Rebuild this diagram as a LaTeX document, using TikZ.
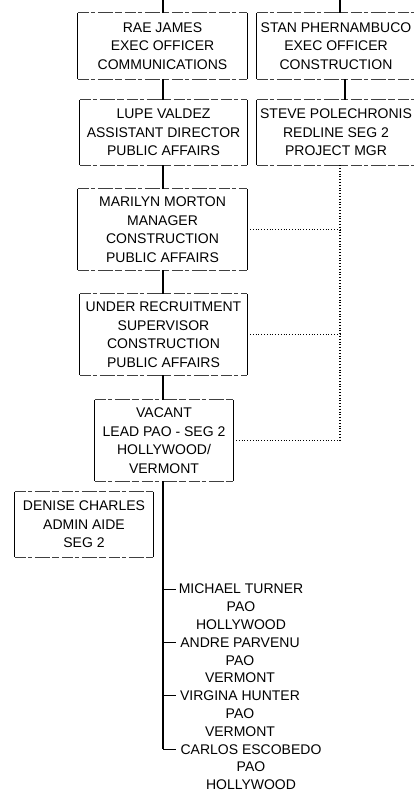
\documentclass[tikz,border=0pt]{standalone}
\usepackage{fontspec}
\setmainfont{Liberation Sans}
\begin{document}
\begin{tikzpicture}[x=1pt,y=-1pt,
  boxarea/.style={rectangle, draw=none, inner sep=0pt, align=center,
    font=\fontsize{14}{18.5}\selectfont},
  boxtext/.style={inner sep=0pt, align=center, font=\fontsize{14}{18.5}\selectfont},
  namelist/.style={inner sep=0pt, align=center, anchor=north, font=\fontsize{14}{17.8}\selectfont},
  sideline/.style={line width=1.1pt, black},
  rimline/.style={line width=0.9pt, black!75, dash pattern=on 11pt off 2pt on 4pt off 3pt on 15pt off 2pt on 7pt off 3pt},
  link/.style={line width=1.15pt, black},
  tick/.style={line width=0.8pt, black},
  dotlink/.style={line width=1.1pt, black, dash pattern=on 1pt off 1.8pt}
]
\useasboundingbox (0,0) rectangle (413,794);
\newcommand\orgedges[1]{%
  \draw[sideline] (#1.north west) -- (#1.south west) (#1.north east) -- (#1.south east);
  \draw[rimline] (#1.north west) -- (#1.north east) (#1.south west) -- (#1.south east);}

% coordinates for connector columns
\coordinate (spine) at (163,0);
\coordinate (stantop) at (340,0);
\coordinate (stanlink) at (345,0);
\coordinate (dotcol) at (340,0);

% boxes
\node[boxarea, minimum width=169pt, minimum height=66pt] (rae) at (162.5,46)
  {RAE JAMES\\EXEC OFFICER\\COMMUNICATIONS};
\node[boxarea, minimum width=173pt, minimum height=66pt] (stan) at (343.5,46) {};
\node[boxtext] (stant) at (336,46) {STAN PHERNAMBUCO\\EXEC OFFICER\\CONSTRUCTION};
\node[boxarea, minimum width=167pt, minimum height=65pt] (lupe) at (163.5,132.5)
  {LUPE VALDEZ\\ASSISTANT DIRECTOR\\PUBLIC AFFAIRS};
\node[boxarea, minimum width=173pt, minimum height=65pt] (steve) at (343.5,132.5) {};
\node[boxtext] (stevet) at (336,132.5) {STEVE POLECHRONIS\\REDLINE SEG 2\\PROJECT MGR};
\node[boxarea, minimum width=169pt, minimum height=81pt] (marilyn) at (162.5,229.5)
  {MARILYN MORTON\\MANAGER\\CONSTRUCTION\\PUBLIC AFFAIRS};
\node[boxarea, minimum width=167pt, minimum height=81pt] (under) at (163.5,334.5)
  {UNDER RECRUITMENT\\SUPERVISOR\\CONSTRUCTION\\PUBLIC AFFAIRS};
\node[boxarea, minimum width=138pt, minimum height=81pt] (vacant) at (164,440.5)
  {VACANT\\LEAD PAO - SEG 2\\HOLLYWOOD/\\VERMONT};
\node[boxarea, minimum width=138pt, minimum height=65pt] (denise) at (84,524.5)
  {DENISE CHARLES\\ADMIN AIDE\\SEG 2};

\orgedges{rae}
\orgedges{stan}
\orgedges{lupe}
\orgedges{steve}
\orgedges{marilyn}
\orgedges{under}
\orgedges{vacant}
\orgedges{denise}

% solid connectors
\draw[link] (spine) -- (spine |- rae.north);
\draw[link] (stantop) -- (stantop |- stan.north);
\draw[link] (spine |- rae.south) -- (spine |- lupe.north);
\draw[link] (stanlink |- stan.south) -- (stanlink |- steve.north);
\draw[link] (spine |- lupe.south) -- (spine |- marilyn.north);
\draw[link] (spine |- marilyn.south) -- (spine |- under.north);
\draw[link] (spine |- under.south) -- (spine |- vacant.north);

% dotted connectors
\draw[dotlink] (dotcol |- steve.south) -- (dotcol |- vacant.east);
\draw[dotlink] (marilyn.east) -- (dotcol |- marilyn.east);
\draw[dotlink] (under.east) -- (dotcol |- under.east);
\draw[dotlink] (vacant.east) -- (dotcol |- vacant.east);

% staff list
\node[namelist] (michael) at (241,584) {MICHAEL TURNER\\PAO\\HOLLYWOOD};
\node[namelist] (andre) at (240,637.4) {ANDRE PARVENU\\PAO\\VERMONT};
\node[namelist] (virgina) at (240,690.8) {VIRGINA HUNTER\\PAO\\VERMONT};
\node[namelist] (carlos) at (251,744.2) {CARLOS ESCOBEDO\\PAO\\HOLLYWOOD};
\coordinate (t1) at (176,589);
\coordinate (t2) at (176,642.4);
\coordinate (t3) at (176,695.8);
\coordinate (t4) at (176,749.2);
\draw[link] (spine |- vacant.south) -- (spine |- t4);
\draw[tick] (spine |- t1) -- (t1);
\draw[tick] (spine |- t2) -- (t2);
\draw[tick] (spine |- t3) -- (t3);
\draw[tick] (spine |- t4) -- (t4);
\end{tikzpicture}
\end{document}
